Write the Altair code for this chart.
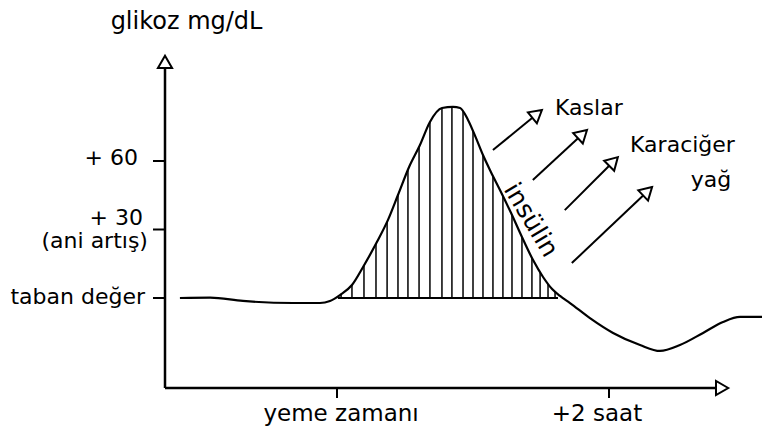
import math

import altair as alt
import pandas as pd

W, H = 762, 438
FONT = "DejaVu Sans"
INK = "#000000"

# Blood glucose after a meal: minutes from the meal vs. mg/dL above the fasting level
minutes = [-69.3, -56.0, -41.5, -19.4, -7.5, -3.1, 1.3, 6.6, 11.5, 17.6, 22.5, 26.9,
           31.8, 36.6, 41.0, 46.3, 51.2, 54.3, 57.8, 61.3, 64.4, 67.9, 71.9, 76.8,
           81.6, 86.5, 90.9, 94.9, 98.4, 102.8, 111.6, 121.8, 133.7, 142.5, 151.3,
           161.5, 170.3, 177.8, 187.5]
glucose = [0.0, 0.2, -1.3, -2.2, -2.2, -1.3, 1.3, 5.7, 13.6, 24.5, 34.2, 45.1,
           57.4, 67.0, 77.1, 83.2, 83.7, 83.2, 78.0, 70.1, 62.6, 55.2, 47.3, 37.2,
           26.7, 16.6, 9.2, 3.9, 0.9, -2.2, -8.8, -15.3, -20.6, -23.2, -20.6,
           -15.3, -10.5, -8.3, -8.3]

# Spike shaded between the fasting level and the curve
spike_start, spike_end = 0.4, 97.5
hatch_minutes = [1.8, 6.6, 11.9, 17.2, 22.1, 26.9, 31.3, 36.2, 41.0, 46.3, 50.7,
                 55.6, 60.0, 64.4, 68.8, 73.2, 77.2, 81.6, 86.0, 89.6, 93.1, 96.2]

y_tick_values = [0, 30, 60]
x_tick_values = [0, 120]

# Axis labels and annotations
title_text = "glikoz mg/dL"
y_labels = ["taban değer", "+ 30", "(ani artış)", "+ 60"]
y_label_pos = [(-84.7, 0.4), (-85.6, 35.0), (-83.4, 25.0), (-87.8, 61.3)]
x_labels = ["yeme zamanı", "+2 saat"]
x_label_pos = [(1.8, -50.8), (114.7, -50.8)]
target_labels = ["Kaslar", "Karaciğer"]
target_label_pos = [(96.2, 83.2), (129.3, 67.0)]
fat_label = "yağ"
fat_label_pos = (165.0, 51.7)
insulin_label = "insülin"
insulin_label_pos = (85.6, 34.2)
insulin_angle = 59

# Insulin arrows: start and tip
arrow_starts = [(68.8, 64.8), (86.4, 51.7), (100.5, 38.5), (103.6, 15.3)]
arrow_tips = [(90.4, 82.3), (110.3, 73.6), (123.9, 61.7), (139.0, 48.6)]

# ---- scale geometry: pixels per unit, origin at meal time / fasting level
PX_PER_MIN = 272 / 120
PX_PER_UNIT = 137 / 60
X_ORIGIN_PX, Y_ORIGIN_PX = 337, 298
X_DOMAIN = [-X_ORIGIN_PX / PX_PER_MIN, (W - X_ORIGIN_PX) / PX_PER_MIN]
Y_DOMAIN = [(Y_ORIGIN_PX - H) / PX_PER_UNIT, Y_ORIGIN_PX / PX_PER_UNIT]

AXIS_T = (165 - X_ORIGIN_PX) / PX_PER_MIN
AXIS_V = (Y_ORIGIN_PX - 388) / PX_PER_UNIT
Y_AXIS_TOP = (Y_ORIGIN_PX - 68) / PX_PER_UNIT
X_AXIS_END = (716 - X_ORIGIN_PX) / PX_PER_MIN
HEAD_SIZE = 200
HEAD_LEN = 0.866 * math.sqrt(HEAD_SIZE)

xs = alt.Scale(domain=X_DOMAIN, nice=False, zero=False)
ys = alt.Scale(domain=Y_DOMAIN, nice=False, zero=False)


def X(field):
    return alt.X(f"{field}:Q", scale=xs, axis=None)


def Y(field):
    return alt.Y(f"{field}:Q", scale=ys, axis=None)


curve = pd.DataFrame({"t": minutes, "v": glucose})
spike = curve[(curve.t >= 1.3) & (curve.t <= 98.4)].assign(top=max(glucose) + 8)

hatch = pd.DataFrame({"t": hatch_minutes, "v": 0.0, "v2": max(glucose) + 5})
hatch_layer = alt.Chart(hatch).mark_rule(color=INK, strokeWidth=1.5).encode(
    x=X("t"), y=Y("v"), y2="v2")

# blank out the hatch above the curve
mask_layer = alt.Chart(spike).mark_area(color="white", opacity=1, interpolate="monotone").encode(
    x=X("t"), y=Y("top"), y2="v")

base_line = alt.Chart(pd.DataFrame({"t": [spike_start], "t2": [spike_end], "v": [0.0]})
                      ).mark_rule(color=INK, strokeWidth=2).encode(x=X("t"), x2="t2", y=Y("v"))

curve_layer = alt.Chart(curve).mark_line(color=INK, strokeWidth=2.2, interpolate="monotone"
                                         ).encode(x=X("t"), y=Y("v"))

axes = pd.DataFrame({
    "t": [AXIS_T, AXIS_T], "t2": [AXIS_T, X_AXIS_END],
    "v": [AXIS_V, AXIS_V], "v2": [Y_AXIS_TOP, AXIS_V],
})
axes_layer = alt.Chart(axes).mark_rule(color=INK, strokeWidth=2.5).encode(
    x=X("t"), x2="t2", y=Y("v"), y2="v2")

y_ticks = pd.DataFrame({"v": y_tick_values,
                        "t": (153 - X_ORIGIN_PX) / PX_PER_MIN,
                        "t2": (164 - X_ORIGIN_PX) / PX_PER_MIN})
y_tick_layer = alt.Chart(y_ticks).mark_rule(color=INK, strokeWidth=2).encode(
    x=X("t"), x2="t2", y=Y("v"))

x_ticks = pd.DataFrame({"t": x_tick_values,
                        "v": AXIS_V,
                        "v2": (Y_ORIGIN_PX - 398) / PX_PER_UNIT})
x_tick_layer = alt.Chart(x_ticks).mark_rule(color=INK, strokeWidth=2).encode(
    x=X("t"), y=Y("v"), y2="v2")

# arrowheads (open triangles) and shafts
heads, shafts = [], []
for (t0, v0), (t1, v1) in zip(arrow_starts, arrow_tips):
    dx, dy = (t1 - t0) * PX_PER_MIN, (v1 - v0) * PX_PER_UNIT
    L = math.hypot(dx, dy)
    ux, uy = dx / L, dy / L
    heads.append({"t": t1 - ux * HEAD_LEN / 2 / PX_PER_MIN,
                  "v": v1 - uy * HEAD_LEN / 2 / PX_PER_UNIT,
                  "angle": math.degrees(math.atan2(dx, dy))})
    shafts.append({"t": t0, "v": v0,
                   "t2": t1 - ux * HEAD_LEN / PX_PER_MIN,
                   "v2": v1 - uy * HEAD_LEN / PX_PER_UNIT})
heads.append({"t": AXIS_T, "v": Y_AXIS_TOP + HEAD_LEN / 2 / PX_PER_UNIT, "angle": 0})
heads.append({"t": X_AXIS_END + HEAD_LEN / 2 / PX_PER_MIN, "v": AXIS_V, "angle": 90})

head_layer = alt.Chart(pd.DataFrame(heads)).mark_point(
    shape="triangle-up", size=HEAD_SIZE, filled=False, color=INK, strokeWidth=2, opacity=1
).encode(x=X("t"), y=Y("v"), angle=alt.Angle("angle:Q", scale=None))

shaft_layer = alt.Chart(pd.DataFrame(shafts)).mark_rule(color=INK, strokeWidth=2).encode(
    x=X("t"), x2="t2", y=Y("v"), y2="v2")


def text_layer(labels, positions, align, size=22, angle=0):
    df = pd.DataFrame({"label": labels,
                       "t": [p[0] for p in positions],
                       "v": [p[1] for p in positions]})
    return alt.Chart(df).mark_text(font=FONT, fontSize=size, color=INK, align=align,
                                   baseline="middle", angle=angle).encode(
        x=X("t"), y=Y("v"), text="label:N")


title_layer = text_layer([title_text], [(AXIS_T + 9.5, 120.9)], "center", size=24)
y_label_layer = text_layer(y_labels, y_label_pos, "right")
x_label_layer = text_layer(x_labels, x_label_pos, "center", size=23)
target_layer = text_layer(target_labels, target_label_pos, "left")
fat_layer = text_layer([fat_label], [fat_label_pos], "center")
insulin_layer = text_layer([insulin_label], [insulin_label_pos], "center", size=25,
                           angle=insulin_angle)

chart = alt.layer(
    hatch_layer, mask_layer, base_line, curve_layer, axes_layer, y_tick_layer,
    x_tick_layer, shaft_layer, head_layer, title_layer, y_label_layer,
    x_label_layer, target_layer, fat_layer, insulin_layer,
).properties(
    width=W, height=H, padding=0,
    autosize=alt.AutoSizeParams(type="none"),
    background="white",
).configure_view(stroke=None)

chart.save("out.html", embed_options={"renderer": "svg", "actions": False})
